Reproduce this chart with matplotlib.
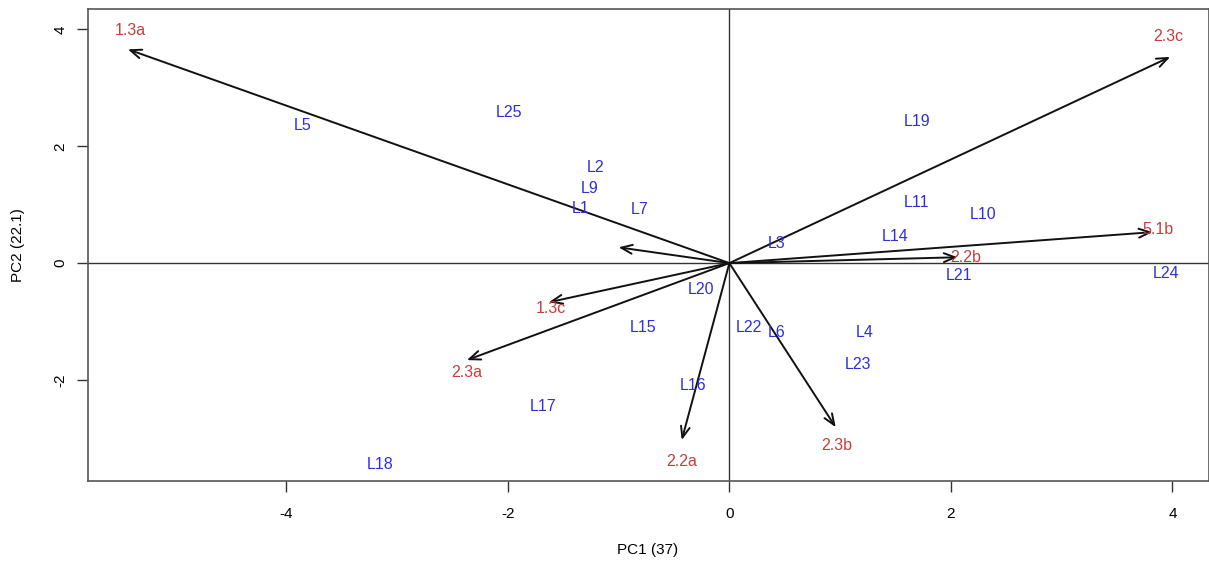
import matplotlib
matplotlib.use("Agg")
import matplotlib.pyplot as plt

plt.rcParams['font.family'] = ['Liberation Sans', 'DejaVu Sans']

# Observations (scores)
obs_labels = ["L5", "L25", "L2", "L9", "L1", "L7", "L3", "L19", "L11", "L10",
              "L14", "L21", "L24", "L20", "L15", "L22", "L6", "L4", "L23",
              "L16", "L17", "L18"]
obs_x = [-3.85, -1.99, -1.21, -1.26, -1.34, -0.81, 0.43, 1.69, 1.69, 2.29,
         1.50, 2.07, 3.94, -0.26, -0.78, 0.18, 0.43, 1.22, 1.16,
         -0.33, -1.68, -3.15]
obs_y = [2.36, 2.57, 1.64, 1.27, 0.94, 0.91, 0.33, 2.43, 1.04, 0.84,
         0.46, -0.22, -0.17, -0.45, -1.11, -1.10, -1.18, -1.18, -1.73,
         -2.09, -2.45, -3.44]

# Variables (loadings arrows)
var_labels = ["1.3a", "2.3c", "5.1b", "2.2b", "", "1.3c", "2.3a", "2.2a", "2.3b"]
var_x = [-5.43, 3.98, 3.82, 2.06, -1.00, -1.63, -2.37, -0.43, 0.96]
var_y = [3.66, 3.53, 0.53, 0.10, 0.27, -0.67, -1.66, -3.03, -2.81]
var_lab_x = [-5.41, 3.96, 3.87, 2.13, -1.00, -1.61, -2.37, -0.43, 0.97]
var_lab_y = [3.99, 3.88, 0.58, 0.09, 0.27, -0.77, -1.87, -3.39, -3.12]

x_ticks = [-4, -2, 0, 2, 4]
y_ticks = [-2, 0, 2, 4]

fig = plt.figure(figsize=(12.09, 5.63), dpi=100)
ax = fig.add_axes([88/1209, 1 - 481/563, (1209 - 88)/1209, (481 - 9)/563])
ax.set_xlim(-5.79, 4.33)
ax.set_ylim(-3.73, 4.35)

ax.axhline(0, color='#333333', lw=1.0, zorder=1)
ax.axvline(0, color='#333333', lw=1.0, zorder=1)

for x, y in zip(var_x, var_y):
    ax.annotate("", xy=(x, y), xytext=(0, 0),
                arrowprops=dict(arrowstyle="->,head_length=0.8,head_width=0.32",
                                color='#111111', lw=1.4, shrinkA=0, shrinkB=0),
                zorder=2)

for t, x, y in zip(var_labels, var_lab_x, var_lab_y):
    if t:
        ax.text(x, y, t, color='#c83c3c', fontsize=11.5, ha='center', va='center', zorder=3)

for t, x, y in zip(obs_labels, obs_x, obs_y):
    ax.text(x, y, t, color='#2e2ee0', fontsize=11.5, ha='center', va='center', zorder=3)

ax.set_xticks(x_ticks)
ax.set_yticks(y_ticks)
ax.set_xticklabels([str(v) for v in x_ticks], fontsize=11)
ax.set_yticklabels([str(v) for v in y_ticks], fontsize=11, rotation=90, va='center')
ax.tick_params(axis='x', direction='out', length=8, width=1.0, color='#333333', pad=11)
ax.tick_params(axis='y', direction='out', length=8, width=1.0, color='#333333', pad=7)
for s in ax.spines.values():
    s.set_color('#555555')
    s.set_linewidth(1.2)

fig.text(648/1209, 1 - 550/563, "PC1 (37)", ha='center', va='center', fontsize=11)
fig.text(18/1209, 1 - 245/563, "PC2 (22.1)", ha='center', va='center', fontsize=11, rotation=90)

fig.savefig("out.png", dpi=100)
